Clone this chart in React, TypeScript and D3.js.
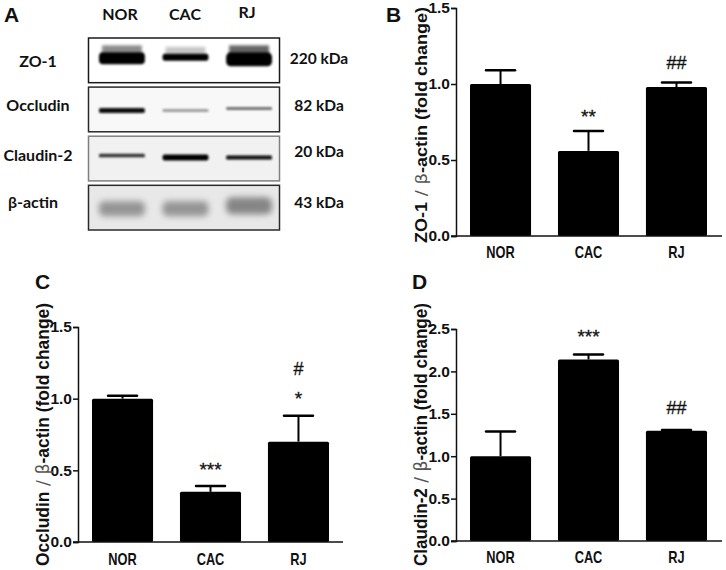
import { useEffect, useRef } from "react"
import * as d3 from "d3"

const groups = ["NOR", "CAC", "RJ"]

// bar heights and upper error bar ends
const zoValues = [1.0, 0.56, 0.98]
const zoErrors = [1.09, 0.69, 1.01]
const occludinValues = [1.0, 0.35, 0.7]
const occludinErrors = [1.02, 0.39, 0.88]
const claudinValues = [1.0, 2.14, 1.3]
const claudinErrors = [1.29, 2.2, 1.31]

const zoTicks = [0, 0.5, 1.0, 1.5]
const occludinTicks = [0, 0.5, 1.0, 1.5]
const claudinTicks = [0, 0.5, 1.0, 1.5, 2.0, 2.5]

// significance marks: [group, level on the y axis, text]
const zoMarks: [string, number, string][] = [["CAC", 0.78, "**"], ["RJ", 1.14, "##"]]
const occludinMarks: [string, number, string][] = [["CAC", 0.5, "***"], ["RJ", 1.0, "*"], ["RJ", 1.21, "#"]]
const claudinMarks: [string, number, string][] = [["CAC", 2.41, "***"], ["RJ", 1.57, "##"]]

// blot rows
const blotNames = ["ZO-1", "Occludin", "Claudin-2", "β-actin"]
const blotSizes = ["220 kDa", "82 kDa", "20 kDa", "43 kDa"]
const blotBackgrounds = ["#ffffff", "#f8f8f8", "#f1f1f1", "#e8e8e8"]
const blotBorders = ["#1a1a1a", "#2a2a2a", "#808080", "#2a2a2a"]
const zoBands = [0.0, 0.0, 0.0]
const occludinBands = [0.05, 0.62, 0.45]
const claudinBands = [0.2, 0.0, 0.05]
const actinBands = [0.58, 0.58, 0.52]
const blotBands = [zoBands, occludinBands, claudinBands, actinBands]
const zoThick = [12, 7, 14]
const occludinThick = [5, 3, 3]
const claudinThick = [3.5, 6, 4]
const actinThick = [15, 15, 17]
const blotThick = [zoThick, occludinThick, claudinThick, actinThick]
const zoShift = [-2, -3, -1]
const occludinShift = [1, 1, -1]
const claudinShift = [-3, -1, -1]
const actinShift = [1, 1, -2]
const blotShift = [zoShift, occludinShift, claudinShift, actinShift]
const zoSmear = [0.45, 0.22, 0.6]

const FONT = "'Liberation Sans', Arial, sans-serif"
const BLOT_FONT = "Lato, 'Open Sans', sans-serif"

function Panel({
  left, right, top, bottom, barLeft, barRight, max, ticks, values, errors, marks, title, labelX, labelY, labelLength, labelSize, catY,
}: any) {
  const axisRef = useRef<SVGGElement>(null)
  const xAxisRef = useRef<SVGGElement>(null)

  const x = d3.scaleBand().domain(groups).range([barLeft, barRight]).paddingInner(0.306).paddingOuter(0)
  const y = d3.scaleLinear().domain([0, max]).range([bottom, top])

  useEffect(() => {
    const g = d3.select(axisRef.current!)
    g.selectAll("*").remove()
    g.call(d3.axisLeft(y).tickValues(ticks).tickSize(5).tickPadding(1).tickFormat(d3.format(".1f")) as any)
    g.selectAll("text").attr("font-family", FONT).attr("font-size", 15.5).attr("font-weight", 700).attr("fill", "#111")
    g.selectAll("line").attr("stroke", "#111").attr("stroke-width", 1.5)
    g.select(".domain").attr("stroke", "#111").attr("stroke-width", 1.5)

    const gx = d3.select(xAxisRef.current!)
    gx.selectAll("*").remove()
    gx.append("line").attr("x1", left - 5).attr("x2", right).attr("y1", bottom).attr("y2", bottom)
      .attr("stroke", "#111").attr("stroke-width", 1.5)
  })

  return (
    <g>
      {groups.map((name, i) => {
        const cx = x(name)! + x.bandwidth() / 2
        return (
          <g key={name}>
            <line x1={cx} x2={cx} y1={y(errors[i])} y2={y(values[i])} stroke="#000" strokeWidth={2} />
            <line x1={cx - 14.5} x2={cx + 14.5} y1={y(errors[i])} y2={y(errors[i])} stroke="#000" strokeWidth={2.5} strokeLinecap="round" />
            <rect x={x(name)} y={y(values[i])} width={x.bandwidth()} height={bottom - y(values[i])} rx={1.5} fill="#000" />
            <text transform={`translate(${cx},${catY}) scale(0.8,1)`} textAnchor="middle" fontFamily={FONT} fontSize={16} fontWeight={700} fill="#111">
              {name}
            </text>
          </g>
        )
      })}
      {marks.map(([name, level, text]: [string, number, string]) => (
        <text key={name + text} x={x(name)! + x.bandwidth() / 2} y={y(level)} dy={6}
          textAnchor="middle" fontFamily={FONT} fontSize={text.includes("#") ? 18 : 19} fill="#111"
          stroke="#111" strokeWidth={0.3}>
          {text}
        </text>
      ))}
      <g ref={axisRef} transform={`translate(${left},0)`} />
      <g ref={xAxisRef} />
      <text transform={`translate(${labelX},${labelY}) rotate(-90)`} fontFamily={FONT} fontSize={labelSize} fontWeight={700} fill="#111"
        textLength={labelLength} lengthAdjust="spacingAndGlyphs">
        {title}
        <tspan fontWeight={400} fill="#555" fontFamily="'DejaVu Sans', sans-serif"> / β</tspan>
        -actin (fold change)
      </text>
    </g>
  )
}

function Blot() {
  const lanes = d3.scaleBand().domain(groups).range([101, 272]).paddingInner(0.31)
  const rows = d3.scaleBand().domain(blotNames).range([38, 230]).paddingInner(0.09)
  const nameBase = [67, 111, 161, 208]
  const nameX = [38, 38, 38, 33]
  const sizeBase = [64, 111, 157, 208]

  return (
    <g>
      <defs>
        <filter id="soft" x="-20%" y="-80%" width="140%" height="260%"><feGaussianBlur stdDeviation="0.9" /></filter>
        <filter id="wide" x="-20%" y="-80%" width="140%" height="260%"><feGaussianBlur stdDeviation="3" /></filter>
        <filter id="smear" x="-20%" y="-80%" width="140%" height="260%"><feGaussianBlur stdDeviation="1.6" /></filter>
      </defs>
      {blotNames.map((name, r) => {
        const top = rows(name)!
        const h = rows.bandwidth()
        const mid = top + h / 2
        const isActin = name === "β-actin"
        return (
          <g key={name}>
            <rect x={88.5} y={top} width={191} height={h} fill={blotBackgrounds[r]} stroke={blotBorders[r]} strokeWidth={1.5} />
            {groups.map((g, i) => {
              const shade = d3.interpolateRgb("#000", "#fff")(blotBands[r][i])
              const bx = lanes(g)!
              const t = blotThick[r][i]
              const cy = mid + blotShift[r][i]
              return (
                <g key={g}>
                  {r === 0 && (
                    <rect x={bx + 1} y={cy - t / 2 - 7} width={lanes.bandwidth() - 4} height={9}
                      fill="#000" opacity={zoSmear[i]} filter="url(#smear)" />
                  )}
                  <rect x={bx - 2} y={cy - t / 2} width={lanes.bandwidth() + 2} height={t} rx={t / 3}
                    fill={shade} filter={isActin ? "url(#wide)" : "url(#soft)"} />
                </g>
              )
            })}
            <text x={nameX[r]} y={nameBase[r]} textAnchor="middle"
              fontFamily={BLOT_FONT} fontSize={16} fontWeight={700} fill="#111">
              {name}
            </text>
            <text x={319} y={sizeBase[r]} textAnchor="middle"
              fontFamily={BLOT_FONT} fontSize={15.5} fontWeight={700} fill="#111">
              {blotSizes[r]}
            </text>
          </g>
        )
      })}
      {groups.map((g, i) => (
        <text key={g} x={[120, 185, 247][i]} y={i === 2 ? 18 : 20} textAnchor="middle" fontFamily={BLOT_FONT} fontSize={16} fontWeight={700} fill="#111">
          {g}
        </text>
      ))}
    </g>
  )
}

export default function App() {
  const letter = { fontFamily: FONT, fontSize: 21, fontWeight: 700, fill: "#111" }
  return (
    <svg width={726} height={570} style={{ position: "absolute", left: 0, top: 0, background: "#fff" }}>
      <text x={4} y={22} {...letter}>A</text>
      <text x={386} y={22} {...letter}>B</text>
      <text x={35} y={289} {...letter}>C</text>
      <text x={412} y={289} {...letter}>D</text>
      <Blot />
      <Panel left={456} right={722} top={8} bottom={236} barLeft={470} barRight={707} max={1.5}
        ticks={zoTicks} values={zoValues} errors={zoErrors} marks={zoMarks} title="ZO-1" labelX={427} labelY={243} labelLength={236} labelSize={16.5} catY={258} />
      <Panel left={78} right={343} top={327} bottom={542} barLeft={92} barRight={329} max={1.5}
        ticks={occludinTicks} values={occludinValues} errors={occludinErrors} marks={occludinMarks} title="Occludin" labelX={49} labelY={566} labelLength={263} labelSize={17.5} catY={565} />
      <Panel left={456} right={722} top={329} bottom={541} barLeft={470} barRight={707} max={2.5}
        ticks={claudinTicks} values={claudinValues} errors={claudinErrors} marks={claudinMarks} title="Claudin-2" labelX={427} labelY={566} labelLength={263} labelSize={17.5} catY={563} />
    </svg>
  )
}
